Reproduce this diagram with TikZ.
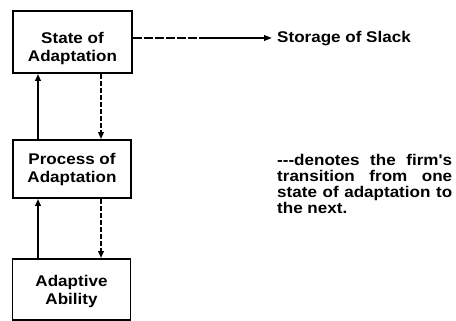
\documentclass[tikz,border=0pt]{standalone}
\usepackage{fontspec}
\setmainfont{Liberation Sans}
\newfontfamily\wideface[FakeStretch=1.1]{Liberation Sans}
\usetikzlibrary{arrows.meta}
\begin{document}
\begin{tikzpicture}[x=1pt,y=-1pt,
  box/.style={draw, line width=1.8pt, inner sep=0pt},
  boxtext/.style={inner sep=0pt, align=center, font=\wideface\bfseries\fontsize{15.5}{18}\selectfont},
  arr/.style={line width=1.8pt, -{Triangle[length=7pt,width=5.5pt]}},
  vdsh/.style={dash pattern=on 5pt off 2pt},
  hdsh/.style={dash pattern=on 9pt off 2pt}]
\useasboundingbox (0,0) rectangle (456,321);
% boxes
\node[box, minimum width=119pt, minimum height=62pt] (s) at (72.5,42) {};
\node[box, minimum width=118pt, minimum height=58pt] (p) at (72,169) {};
\node[box, minimum width=118pt, minimum height=61pt] (a) at (71.5,289.5) {};
\node[boxtext] (st) at (72.5,48) {State of\\Adaptation};
\node[boxtext] (pt) at (72,169) {Process of\\Adaptation};
\node[boxtext] (at) at (71.5,291) {Adaptive\\Ability};
% storage
\node[anchor=base west, inner sep=0pt, font=\wideface\bfseries\fontsize{15.5}{18}\selectfont] (stor) at (277,43) {Storage of Slack};
\coordinate (h) at (0,38);
\coordinate (mid) at (208,38);
\coordinate (tip) at (272,38);
\coordinate (ux) at (38,0);
\coordinate (dx) at (101,0);
\draw[line width=1.8pt, hdsh] (s.east |- h) -- (mid);
\draw[arr, -{Triangle[length=8pt,width=5.5pt]}] (mid) -- (tip);
% vertical connectors
\draw[arr] (p.north -| ux) -- (s.south -| ux);
\draw[arr, vdsh] (s.south -| dx) -- (p.north -| dx);
\draw[arr] (a.north -| ux) -- (p.south -| ux);
\draw[arr, vdsh] (p.south -| dx) -- (a.north -| dx);
% note
\node[anchor=north west, inner sep=0pt, text width=175pt, align=justify,
  font=\wideface\bfseries\fontsize{15.5}{16}\selectfont] (note) at (277,153.7)
  {-{}-{}-denotes the firm's\linebreak transition from one\linebreak state of adaptation to\linebreak the next.};
\end{tikzpicture}
\end{document}
